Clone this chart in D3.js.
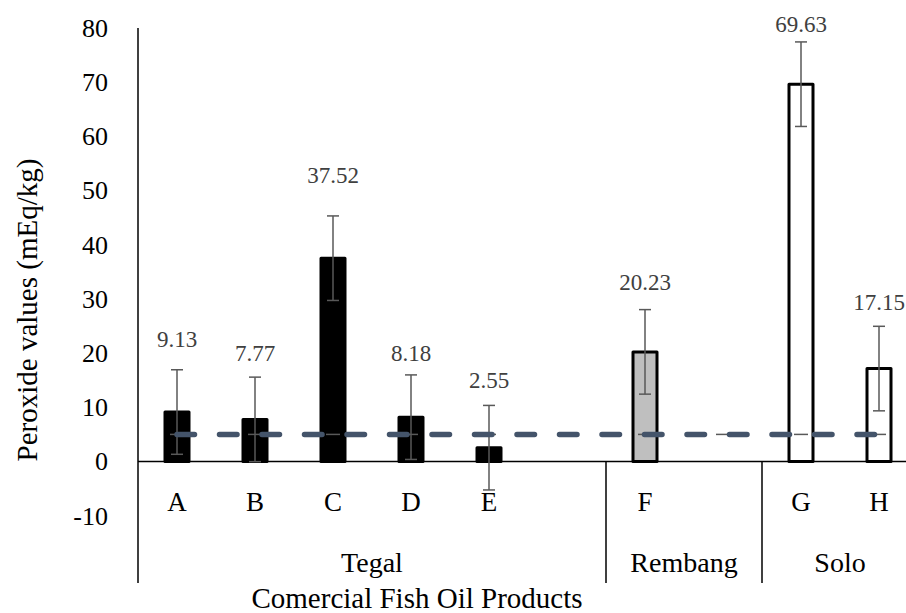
<!DOCTYPE html>
<html>
<head>
<meta charset="utf-8">
<script src="https://cdn.jsdelivr.net/npm/d3@7"></script>
<style>
  html, body { margin: 0; padding: 0; background: #fff; }
  svg { display: block; }
  text { font-family: "Liberation Serif", "Times New Roman", serif; }
</style>
</head>
<body>
<svg id="chart" width="906" height="613"></svg>
<script>
// ---------- data ----------
const slots = ["A", "B", "C", "D", "E", "", "F", "", "G", "H"];   // category axis slots
const categories = ["A", "B", "C", "D", "E", "F", "G", "H"];
const values = [9.13, 7.77, 37.52, 8.18, 2.55, 20.23, 69.63, 17.15];
const errors = [7.8, 7.8, 7.8, 7.8, 7.8, 7.8, 7.8, 7.8];
const region = ["Tegal", "Tegal", "Tegal", "Tegal", "Tegal", "Rembang", "Solo", "Solo"];
const groupNames = ["Tegal", "Rembang", "Solo"];
const groupSpans = [6, 2, 2];
const labelLevels = [22.56, 20.08, 52.88, 20.08, 15.04, 33.19, 80.76, 29.5]; // label heights (data units)
const standardValue = 5;
const yTicks = [-10, 0, 10, 20, 30, 40, 50, 60, 70, 80];

// ---------- layout ----------
const FONT = "'Liberation Serif', 'Times New Roman', serif";
const svg = d3.select("#chart");
const plotLeft = 138, plotTop = 28, zeroY = 461.5, slotW = 78;
const x = d3.scaleBand().domain(d3.range(slots.length)).range([plotLeft, plotLeft + slotW * slots.length]).padding(0);
const y = d3.scaleLinear().domain([0, 80]).range([zeroY, plotTop]);
const fills = { Tegal: "#000000", Rembang: "#BFBFBF", Solo: "#FFFFFF" };
const slotOf = c => slots.indexOf(c);
const cx = c => x(slotOf(c)) + x.bandwidth() / 2;

// y axis tick labels
const yAxis = d3.axisLeft(y).tickValues(yTicks).tickSize(0).tickPadding(30).tickFormat(d => String(d));
const gy = svg.append("g").attr("transform", `translate(${plotLeft},0)`).call(yAxis);
gy.attr("font-family", FONT);
gy.select(".domain").remove();
gy.selectAll("text").attr("font-size", 26).attr("fill", "#000");

// vertical left line (axis + category box)
svg.append("line").attr("x1", plotLeft).attr("x2", plotLeft).attr("y1", plotTop).attr("y2", 583)
  .attr("stroke", "#000").attr("stroke-width", 1.5);

// horizontal category axis at 0
svg.append("line").attr("x1", plotLeft).attr("x2", 906).attr("y1", y(0)).attr("y2", y(0))
  .attr("stroke", "#000").attr("stroke-width", 1.5);

// group separators
let acc = 0;
groupSpans.forEach((s, i) => {
  const x0 = x(acc);
  const x1 = acc + s < slots.length ? x(acc + s) : x.range()[1];
  if (i > 0) {
    svg.append("line").attr("x1", x0).attr("x2", x0).attr("y1", y(0)).attr("y2", 583)
      .attr("stroke", "#000").attr("stroke-width", 1.5);
  }
  svg.append("text").attr("x", (x0 + x1) / 2).attr("y", 562).attr("dy", "0.35em")
    .attr("font-family", FONT)
    .attr("text-anchor", "middle").attr("font-size", 28).attr("fill", "#000").text(groupNames[i]);
  acc += s;
});

// category labels
const xAxis = d3.axisBottom(x).tickSize(0).tickPadding(0).tickFormat(i => slots[i]);
const gx = svg.append("g").attr("transform", `translate(0,${y(0)})`).call(xAxis);
gx.attr("font-family", FONT);
gx.select(".domain").remove();
gx.selectAll("text").attr("font-size", 27).attr("fill", "#000").attr("y", 40).attr("dy", "0.35em");

// bars
const barW = 24;
svg.append("g").selectAll("rect").data(categories).join("rect")
  .attr("x", c => cx(c) - barW / 2)
  .attr("y", (c, i) => y(values[i]))
  .attr("width", barW)
  .attr("height", (c, i) => y(0) - y(values[i]))
  .attr("fill", (c, i) => fills[region[i]])
  .attr("stroke", "#000").attr("stroke-width", 3).attr("stroke-linejoin", "round");

// error bars
const eg = svg.append("g").attr("stroke", "#595959").attr("stroke-width", 1.5);
categories.forEach((c, i) => {
  const X = cx(c), hi = y(values[i] + errors[i]), lo = y(values[i] - errors[i]);
  eg.append("line").attr("x1", X).attr("x2", X).attr("y1", hi).attr("y2", lo);
  eg.append("line").attr("x1", X - 6).attr("x2", X + 6).attr("y1", hi).attr("y2", hi);
  eg.append("line").attr("x1", X - 6).attr("x2", X + 6).attr("y1", lo).attr("y2", lo);
});

// standard line caps (zero-length error bars)
slots.forEach((s, i) => {
  const X = x(i) + x.bandwidth() / 2;
  eg.append("line").attr("x1", X - 7).attr("x2", X + 7).attr("y1", y(standardValue)).attr("y2", y(standardValue));
});

// dashed standard line
const lineData = slots.map((s, i) => ({ i, v: standardValue }));
svg.append("path").datum(lineData)
  .attr("d", d3.line().x(d => x(d.i) + x.bandwidth() / 2).y(d => y(d.v)))
  .attr("fill", "none").attr("stroke", "#44546A").attr("stroke-width", 5.5)
  .attr("stroke-linecap", "round").attr("stroke-dasharray", "17.5,25");

// data labels
svg.append("g").attr("font-family", FONT).selectAll("text").data(categories).join("text")
  .attr("x", c => cx(c))
  .attr("y", (c, i) => y(labelLevels[i]))
  .attr("dy", "0.35em")
  .attr("text-anchor", "middle").attr("font-size", 23).attr("fill", "#404040")
  .text((c, i) => values[i].toFixed(2));

// axis titles
svg.append("text").attr("transform", "translate(27,310) rotate(-90)").attr("dy", "0.35em")
  .attr("font-family", FONT)
  .attr("text-anchor", "middle").attr("font-size", 29).attr("fill", "#000")
  .text("Peroxide values (mEq/kg)");
svg.append("text").attr("x", 417).attr("y", 598).attr("dy", "0.35em")
  .attr("font-family", FONT)
  .attr("text-anchor", "middle").attr("font-size", 29).attr("fill", "#000")
  .text("Comercial Fish Oil Products");
</script>
</body>
</html>
